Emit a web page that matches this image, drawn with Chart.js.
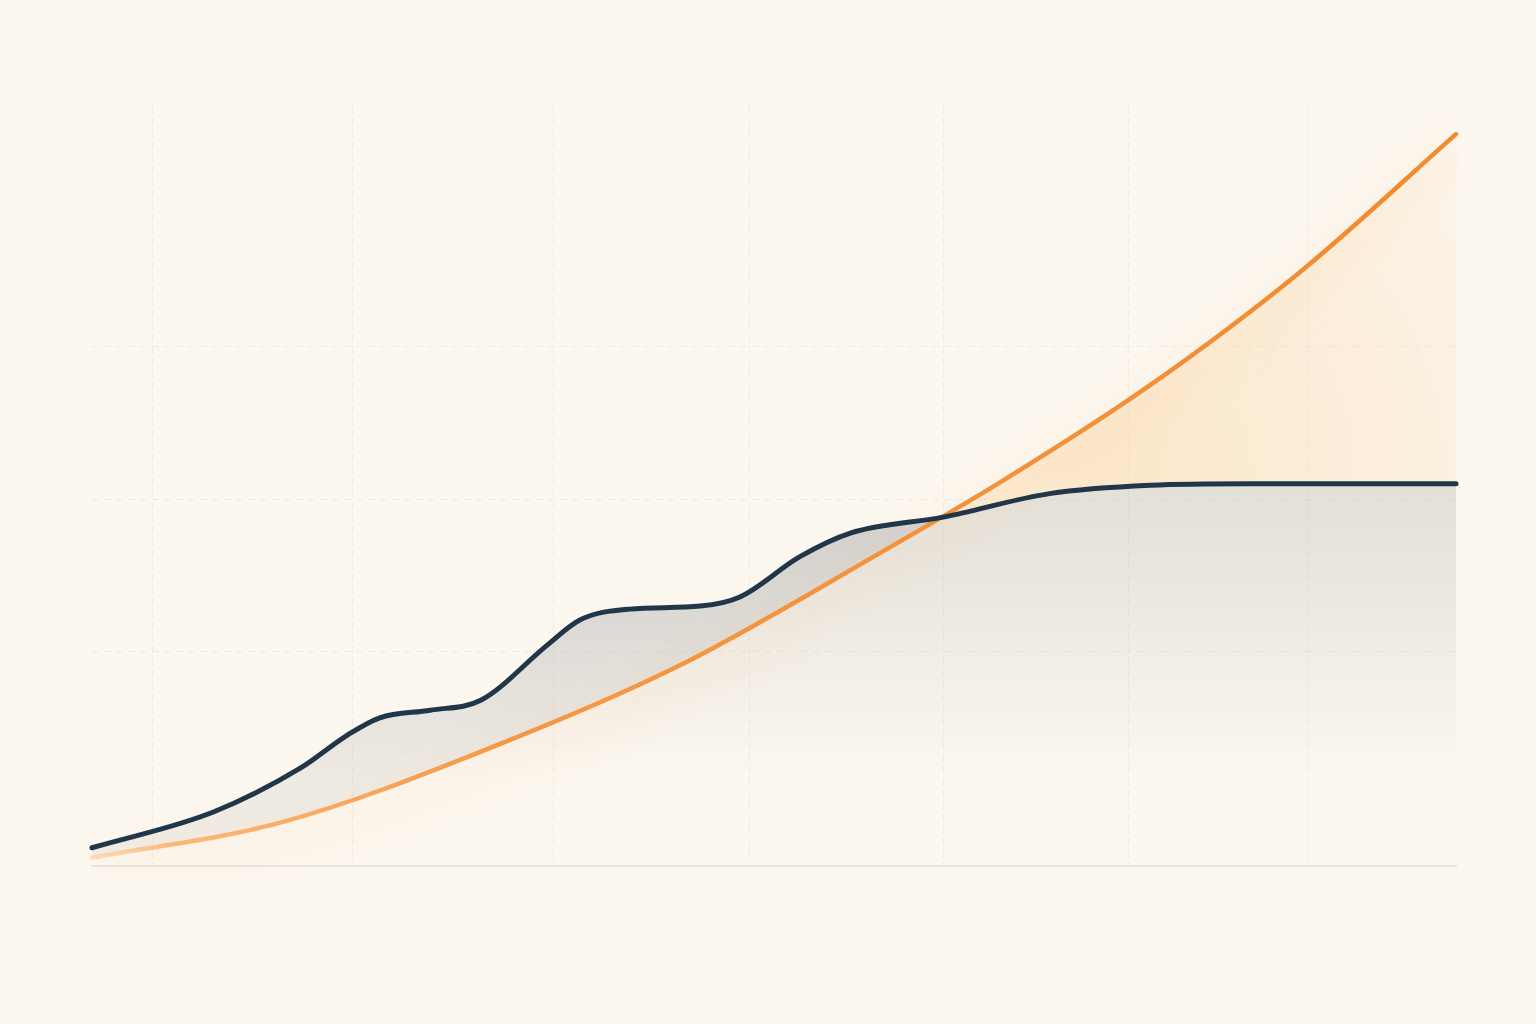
<!DOCTYPE html>
<html>
<head>
<meta charset="utf-8">
<script src="https://cdn.jsdelivr.net/npm/chart.js@4.4.1/dist/chart.umd.min.js"></script>
<style>
  html, body { margin: 0; padding: 0; background: #fcf7ef; }
  canvas { display: block; }
</style>
</head>
<body>
<canvas id="chart" width="1536" height="1024"></canvas>
<script>
// x positions (0-100) and values (0-100)
const darkX = [0, 8.9, 15.3, 18.7, 21.1, 24.8, 28.5, 33.4, 35.8, 39.4, 44.6, 47.5, 51.9, 55.6, 62.4, 70.2, 77.6, 84.9, 100];
const darkY = [2.4, 7.1, 12.9, 17.2, 19.5, 20.5, 21.8, 29.1, 32.4, 33.8, 34.2, 35.4, 40.7, 43.8, 45.9, 49.0, 50.1, 50.3, 50.3];

const orangeX = [0, 13.8, 29.7, 43.1, 57.6, 66.6, 77.6, 88.6, 100];
const orangeY = [1.1, 5.7, 15.9, 26.4, 41.0, 50.5, 63.3, 78.2, 96.3];

// grid line positions
const xGrid = [4.4, 19.1, 33.8, 48.2, 62.4, 76.0, 89.1];
const yGrid = [28.2, 48.2, 68.3];

const canvas = document.getElementById('chart');
const ctx = canvas.getContext('2d');

const toPts = (xs, ys) => xs.map((x, i) => ({ x: x, y: ys[i] }));

// gradients (chart area is fixed by the layout padding)
const orangeStroke = ctx.createLinearGradient(92, 0, 1456, 0);
orangeStroke.addColorStop(0, 'rgba(252,196,140,0.5)');
orangeStroke.addColorStop(0.06, '#fbb877');
orangeStroke.addColorStop(0.3, '#f59845');
orangeStroke.addColorStop(1, '#f28a2e');

const bandGray = ctx.createLinearGradient(0, 500, 0, 860);
bandGray.addColorStop(0, 'rgba(182,184,184,0.42)');
bandGray.addColorStop(1, 'rgba(195,195,192,0.18)');

const bandOrange = ctx.createRadialGradient(1120, 470, 0, 1120, 470, 480);
bandOrange.addColorStop(0, 'rgba(250,196,120,0.30)');
bandOrange.addColorStop(0.6, 'rgba(250,200,130,0.16)');
bandOrange.addColorStop(1, 'rgba(250,200,130,0.02)');

const shade = ctx.createLinearGradient(0, 484, 0, 780);
shade.addColorStop(0, 'rgba(150,150,145,0.24)');
shade.addColorStop(1, 'rgba(150,150,145,0)');

// soft glow under the orange line
const glowPlugin = {
    id: 'glow',
    beforeDatasetDraw(chart, args) {
        if (chart.data.datasets[args.index].glow) {
            const c = chart.ctx;
            c.save();
            c.shadowColor = 'rgba(245,145,50,0.4)';
            c.shadowBlur = 40;
            c.shadowOffsetY = 14;
        }
    },
    afterDatasetDraw(chart, args) {
        if (chart.data.datasets[args.index].glow) {
            chart.ctx.restore();
        }
    }
};

new Chart(ctx, {
    type: 'line',
    data: {
        datasets: [
            {
                // area between the two lines
                data: toPts(darkX, darkY),
                borderWidth: 0,
                borderColor: 'rgba(0,0,0,0)',
                pointRadius: 0,
                cubicInterpolationMode: 'monotone',
                fill: { target: 2, above: bandGray, below: bandOrange },
                order: 5
            },
            {
                // shade under the dark line
                data: toPts(darkX, darkY),
                borderWidth: 0,
                borderColor: 'rgba(0,0,0,0)',
                backgroundColor: shade,
                pointRadius: 0,
                cubicInterpolationMode: 'monotone',
                fill: 'origin',
                order: 6
            },
            {
                data: toPts(orangeX, orangeY),
                borderColor: orangeStroke,
                borderWidth: 4.5,
                borderCapStyle: 'round',
                pointRadius: 0,
                cubicInterpolationMode: 'monotone',
                fill: false,
                clip: 6,
                glow: true,
                order: 3
            },
            {
                data: toPts(darkX, darkY),
                borderColor: '#213649',
                borderWidth: 5,
                borderCapStyle: 'round',
                borderJoinStyle: 'round',
                pointRadius: 0,
                cubicInterpolationMode: 'monotone',
                fill: false,
                clip: 6,
                order: 1
            }
        ]
    },
    options: {
        responsive: false,
        animation: false,
        devicePixelRatio: 1,
        layout: { padding: { left: 92, right: 80, top: 106, bottom: 158 } },
        plugins: { legend: { display: false }, tooltip: { enabled: false } },
        scales: {
            x: {
                type: 'linear',
                min: 0,
                max: 100,
                ticks: { display: false },
                grid: { color: 'rgba(205,198,188,0.25)', lineWidth: 1, drawTicks: false },
                border: { display: true, color: '#e9e3da', width: 2, dash: [7, 5] },
                afterBuildTicks: axis => { axis.ticks = xGrid.map(v => ({ value: v })); },
                afterFit: axis => { axis.height = 0; }
            },
            y: {
                min: 0,
                max: 100,
                ticks: { display: false },
                grid: { color: 'rgba(205,198,188,0.25)', lineWidth: 1, drawTicks: false },
                border: { display: false, dash: [7, 5] },
                afterBuildTicks: axis => { axis.ticks = yGrid.map(v => ({ value: v })); },
                afterFit: axis => { axis.width = 0; }
            }
        }
    },
    plugins: [glowPlugin]
});
</script>
</body>
</html>
